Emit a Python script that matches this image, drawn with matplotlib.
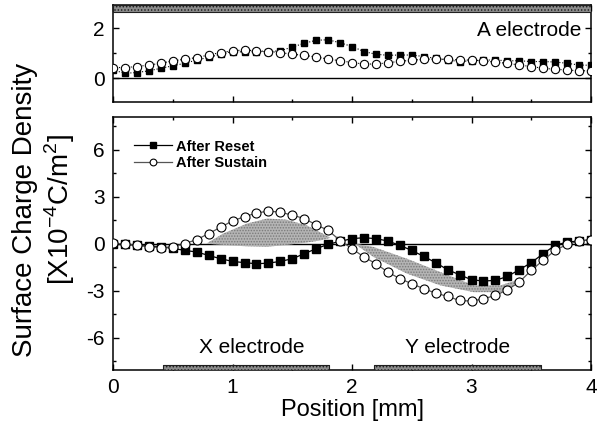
import numpy as np
import matplotlib
matplotlib.use("Agg")
import matplotlib.pyplot as plt
from matplotlib.ticker import MultipleLocator

plt.rcParams['font.family'] = ['Liberation Sans', 'DejaVu Sans']
plt.rcParams['mathtext.fontset'] = 'custom'
plt.rcParams['mathtext.rm'] = 'Liberation Sans'
plt.rcParams['axes.unicode_minus'] = False
plt.rcParams['hatch.linewidth'] = 0.7

# positions along the cell [mm]
position = [0.0, 0.1, 0.2, 0.3, 0.4, 0.5, 0.6, 0.7, 0.8, 0.9,
            1.0, 1.1, 1.2, 1.3, 1.4, 1.5, 1.6, 1.7, 1.8, 1.9,
            2.0, 2.1, 2.2, 2.3, 2.4, 2.5, 2.6, 2.7, 2.8, 2.9,
            3.0, 3.1, 3.2, 3.3, 3.4, 3.5, 3.6, 3.7, 3.8, 3.9, 4.0]

# A electrode side (upper panel)
a_reset = [0.33, 0.2, 0.23, 0.3, 0.4, 0.5, 0.6, 0.73, 0.84, 0.96,
           1.07, 1.05, 1.07, 1.07, 1.1, 1.25, 1.4, 1.52, 1.54, 1.42,
           1.27, 1.07, 0.96, 0.92, 0.93, 0.93, 0.87, 0.8, 0.73, 0.67,
           0.7, 0.73, 0.73, 0.7, 0.7, 0.67, 0.67, 0.65, 0.6, 0.53, 0.52]
a_sustain = [0.43, 0.43, 0.47, 0.53, 0.6, 0.7, 0.76, 0.83, 0.93, 1.03,
             1.1, 1.13, 1.1, 1.07, 1.03, 0.96, 0.92, 0.85, 0.77, 0.7,
             0.63, 0.57, 0.57, 0.62, 0.68, 0.72, 0.76, 0.77, 0.76, 0.73,
             0.73, 0.7, 0.64, 0.6, 0.53, 0.47, 0.4, 0.36, 0.33, 0.3, 0.3]

# X / Y electrode side (lower panel)
xy_reset = [-0.05, -0.05, -0.1, -0.15, -0.2, -0.3, -0.43, -0.53, -0.75, -0.96,
            -1.13, -1.21, -1.28, -1.24, -1.13, -0.96, -0.64, -0.32, -0.04, 0.15,
            0.32, 0.38, 0.32, 0.17, -0.11, -0.43, -0.81, -1.21, -1.66, -1.98,
            -2.3, -2.38, -2.34, -2.09, -1.66, -1.21, -0.64, -0.1, 0.1, 0.17, 0.25]
xy_sustain = [0.04, -0.04, -0.1, -0.2, -0.25, -0.2, 0.0, 0.26, 0.64, 1.05,
              1.45, 1.72, 1.95, 2.08, 2.0, 1.82, 1.6, 1.2, 0.85, 0.2,
              -0.32, -0.85, -1.28, -1.81, -2.23, -2.55, -2.87, -3.15, -3.36, -3.62,
              -3.66, -3.51, -3.3, -2.94, -2.45, -1.7, -1.06, -0.43, -0.04, 0.17, 0.26]

# shaded difference regions
lens1_x = [0.78, 0.92, 1.12, 1.29, 1.45, 1.62, 1.73, 1.82]
lens1_hi = [0.0, 0.64, 1.28, 1.6, 1.53, 1.17, 0.74, 0.37]
lens1_lo = [0.0, -0.08, -0.17, -0.2, -0.08, 0.07, 0.2, 0.37]
lens2_x = [2.02, 2.18, 2.46, 2.74, 3.02, 3.24, 3.35, 3.41]
lens2_hi = [0.0, -0.21, -0.96, -1.81, -2.66, -2.66, -2.4, -2.13]
lens2_lo = [0.0, -0.85, -1.91, -2.66, -3.09, -3.09, -2.66, -2.13]

# electrodes (start, width) in mm
a_electrode = [(0.0, 4.0)]
xy_electrodes = [(0.42, 1.39), (2.18, 1.40)]

fig = plt.figure(figsize=(6.08, 4.32), dpi=100)
ax1 = fig.add_axes([0.186, 0.7646, 0.786, 0.2238])
ax2 = fig.add_axes([0.186, 0.1435, 0.786, 0.5860])

# upper panel
ax1.axhline(0, color='k', lw=1.0, zorder=1)
ax1.plot(position, a_reset, ls=':', color='k', lw=0.8, marker='s', ms=5,
         mfc='k', mec='k', zorder=3)
ax1.plot(position, a_sustain, ls=':', color='k', lw=0.8, marker='o', ms=6,
         mfc='white', mec='k', mew=0.8, zorder=3)
ax1.broken_barh(a_electrode, (2.65, 0.3), facecolor='#8c8c8c', edgecolor='#202020',
                hatch='.....', lw=0.8, zorder=4)
ax1.text(3.92, 1.93, 'A electrode', ha='right', va='center', fontsize=15)
ax1.set_xlim(0, 4)
ax1.set_ylim(-0.936, 2.93)
ax1.set_yticks([0, 2])
ax1.yaxis.set_minor_locator(MultipleLocator(1))
ax1.xaxis.set_major_locator(MultipleLocator(1))
ax1.xaxis.set_minor_locator(MultipleLocator(0.5))
ax1.tick_params(axis='x', labelbottom=False)

# lower panel
ax2.axhline(0, color='k', lw=1.0, zorder=1)
ax2.fill_between(lens1_x, lens1_lo, lens1_hi, facecolor='#b4b4b4',
                 edgecolor='#7a7a7a', hatch='......', lw=0, zorder=2)
ax2.fill_between(lens2_x, lens2_lo, lens2_hi, facecolor='#b4b4b4',
                 edgecolor='#7a7a7a', hatch='......', lw=0, zorder=2)
ax2.plot(position, xy_reset, '-', color='k', lw=0.9, marker='s', ms=5.5,
         mfc='k', mec='k', zorder=3, label='After Reset')
ax2.plot(position, xy_sustain, '-', color='#555555', lw=0.9, marker='o', ms=6.5,
         mfc='white', mec='k', mew=0.8, zorder=3, label='After Sustain')
ax2.broken_barh(xy_electrodes, (-8.05, 0.35), facecolor='#8c8c8c', edgecolor='#202020',
                hatch='.....', lw=0.8, zorder=4)
ax2.text(1.16, -6.6, 'X electrode', ha='center', va='center', fontsize=15)
ax2.text(2.88, -6.6, 'Y electrode', ha='center', va='center', fontsize=15)
ax2.set_xlim(0, 4)
ax2.set_ylim(-8.05, 8.08)
ax2.set_yticks([-6, -3, 0, 3, 6])
ax2.yaxis.set_minor_locator(MultipleLocator(1.5))
ax2.xaxis.set_major_locator(MultipleLocator(1))
ax2.xaxis.set_minor_locator(MultipleLocator(0.5))
ax2.set_xlabel('Position [mm]', fontsize=17, labelpad=1)

leg = ax2.legend(loc='upper left', bbox_to_anchor=(0.025, 0.945), frameon=False,
                 handlelength=2.6, handletextpad=0.3, labelspacing=0.2,
                 borderaxespad=0.2, markerscale=0.75,
                 prop={'weight': 'bold', 'size': 10.5})

for ax in (ax1, ax2):
    for s in ax.spines.values():
        s.set_linewidth(1.1)
    ax.tick_params(which='both', direction='in', top=True, right=True,
                   labelsize=15, width=1.0, pad=6)
    ax.tick_params(which='major', length=4.5)
    ax.tick_params(which='minor', length=2.5)

fig.text(0.041, 0.514, 'Surface Charge Density', rotation=90,
         ha='center', va='center', fontsize=20)
fig.text(0.099, 0.514, r'[X10$^{\mathrm{-4}}$C/m$^{\mathrm{2}}$]', rotation=90,
         ha='center', va='center', fontsize=20)

fig.savefig('out.png', dpi=100)
